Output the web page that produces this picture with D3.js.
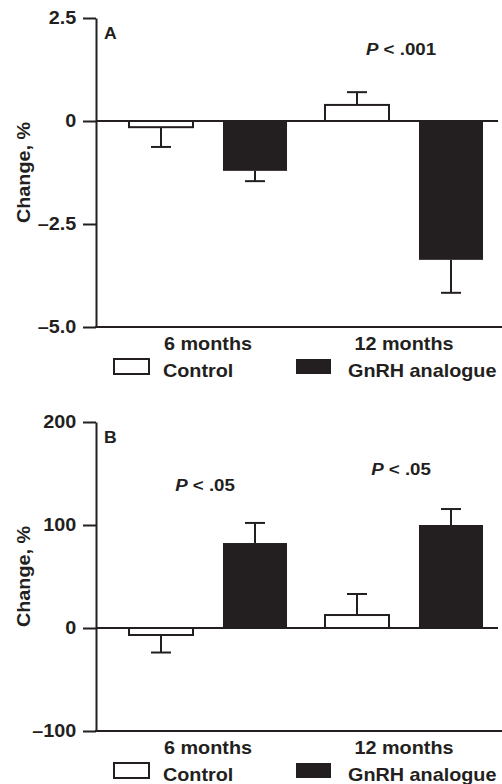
<!DOCTYPE html>
<html>
<head>
<meta charset="utf-8">
<script src="https://cdn.jsdelivr.net/npm/d3@7"></script>
<style>
  body { margin: 0; background: #fff; }
  svg text { font-family: "Liberation Sans", Arial, sans-serif; font-weight: bold; fill: #231f20; }
</style>
</head>
<body>
<svg id="chart" width="502" height="784"></svg>
<script>
// data
var months = ["6 months", "12 months"];
var groups = ["Control", "GnRH analogue"];

// panel A
var controlA = [-0.15, 0.39];
var controlErrA = [0.48, 0.31];
var gnrhA = [-1.21, -3.37];
var gnrhErrA = [0.25, 0.80];
var ticksA = [2.5, 0, -2.5, -5.0];
var tickLabelsA = ["2.5", "0", "\u20132.5", "\u20135.0"];
var pLabelsA = [{month: "12 months", y: 1.6, text: ".001"}];

// panel B
var controlB = [-6.8, 12.6];
var controlErrB = [17, 20.4];
var gnrhB = [82.5, 100];
var gnrhErrB = [19.5, 15.5];
var ticksB = [200, 100, 0, -100];
var tickLabelsB = ["200", "100", "0", "\u2013100"];
var pLabelsB = [{month: "6 months", y: 133, text: ".05"}, {month: "12 months", y: 148.5, text: ".05"}];

var ink = "#231f20";
var stretch = "scale(1.1,1)";
var svg = d3.select("#chart");

var x0 = d3.scaleBand().domain(months).range([110, 502]).padding(0);
var x1 = d3.scaleBand().domain(groups).range([0, x0.bandwidth()])
    .paddingInner(0.319).paddingOuter(0.202);

var drawPanel = function(opt) {
    var g = svg.append("g");
    var left = 96, right = 500;
    var y = d3.scaleLinear().domain(opt.domain).range([opt.bottom, opt.top]);

    var rows = months.map(function(m, i) {
        return [
            {month: m, group: groups[0], v: opt.control[i], e: opt.controlErr[i]},
            {month: m, group: groups[1], v: opt.gnrh[i], e: opt.gnrhErr[i]}
        ];
    });
    var bars = [].concat.apply([], rows);

    // zero line
    g.append("line")
        .attr("x1", left).attr("x2", right - 2)
        .attr("y1", y(0)).attr("y2", y(0))
        .attr("stroke", ink).attr("stroke-width", 2);

    // error bars (one-sided, away from zero)
    var err = g.selectAll(".err").data(bars).enter().append("g");
    err.append("line")
        .attr("x1", function(d) { return x0(d.month) + x1(d.group) + x1.bandwidth() / 2; })
        .attr("x2", function(d) { return x0(d.month) + x1(d.group) + x1.bandwidth() / 2; })
        .attr("y1", function(d) { return y(d.v); })
        .attr("y2", function(d) { return y(d.v + (d.v < 0 ? -d.e : d.e)); })
        .attr("stroke", ink).attr("stroke-width", 2);
    err.append("line")
        .attr("x1", function(d) { return x0(d.month) + x1(d.group) + x1.bandwidth() / 2 - 10; })
        .attr("x2", function(d) { return x0(d.month) + x1(d.group) + x1.bandwidth() / 2 + 10; })
        .attr("y1", function(d) { return y(d.v + (d.v < 0 ? -d.e : d.e)); })
        .attr("y2", function(d) { return y(d.v + (d.v < 0 ? -d.e : d.e)); })
        .attr("stroke", ink).attr("stroke-width", 2);

    // bars
    g.selectAll(".bar").data(bars).enter().append("rect")
        .attr("x", function(d) { return x0(d.month) + x1(d.group); })
        .attr("width", x1.bandwidth())
        .attr("y", function(d) { return Math.min(y(d.v), y(0)); })
        .attr("height", function(d) { return Math.abs(y(d.v) - y(0)); })
        .attr("fill", function(d) { return d.group == "Control" ? "#fff" : ink; })
        .attr("stroke", ink)
        .attr("stroke-width", function(d) { return d.group == "Control" ? 2 : 0; });

    // y axis
    var yAxis = d3.axisLeft(y)
        .tickValues(opt.ticks)
        .tickFormat(function(d, i) { return opt.tickLabels[i]; })
        .tickSize(13).tickSizeOuter(0).tickPadding(5);
    var ya = g.append("g").attr("transform", "translate(" + left + ",0)").call(yAxis);
    ya.select(".domain").attr("stroke", ink).attr("stroke-width", 2);
    ya.selectAll(".tick line").attr("stroke", ink).attr("stroke-width", 2);
    ya.selectAll(".tick text").attr("fill", ink).attr("font-size", 18)
        .attr("font-family", null).attr("transform", stretch);

    // bottom axis line
    g.append("line")
        .attr("x1", left - 1).attr("x2", right + 2)
        .attr("y1", y(opt.domain[0])).attr("y2", y(opt.domain[0]))
        .attr("stroke", ink).attr("stroke-width", 2);

    // month labels
    var xa = g.append("g").attr("transform", "translate(0," + y(opt.domain[0]) + ")")
        .call(d3.axisBottom(x0).tickSize(0).tickPadding(10));
    xa.select(".domain").remove();
    xa.selectAll(".tick text").attr("fill", ink).attr("font-size", 18)
        .attr("font-family", null).attr("transform", stretch);

    // y label
    g.append("text")
        .attr("transform", "translate(30," + (opt.top + opt.bottom) / 2 + ") rotate(-90) " + stretch)
        .attr("text-anchor", "middle")
        .attr("font-size", 18)
        .text("Change, %");

    // panel letter
    g.append("text")
        .attr("transform", "translate(" + (left + 8) + "," + (opt.top + 21) + ") " + stretch)
        .attr("font-size", 16)
        .text(opt.letter);

    // p values
    opt.pLabels.forEach(function(p) {
        var t = g.append("text")
            .attr("transform", "translate(" + (x0(p.month) + x0.bandwidth() / 2 - 3) + "," + y(p.y) + ") " + stretch)
            .attr("text-anchor", "middle")
            .attr("font-size", 17);
        t.append("tspan").attr("font-style", "italic").text("P");
        t.append("tspan").text(" < " + p.text);
    });

    // legend
    var ly = y(opt.domain[0]) + 32;
    var legend = g.selectAll(".legend").data(groups).enter().append("g")
        .attr("transform", function(d, i) { return "translate(" + (i == 0 ? 114 : 296) + "," + ly + ")"; });
    legend.append("rect")
        .attr("width", 35).attr("height", 15)
        .attr("fill", function(d) { return d == "Control" ? "#fff" : ink; })
        .attr("stroke", ink)
        .attr("stroke-width", function(d) { return d == "Control" ? 2 : 0; });
    legend.append("text")
        .attr("transform", function(d) { return "translate(" + (d == "Control" ? 49 : 52) + ",18) " + stretch; })
        .attr("font-size", 18)
        .text(function(d) { return d; });
};

drawPanel({letter: "A", domain: [-5, 2.5], top: 18, bottom: 327,
    control: controlA, controlErr: controlErrA, gnrh: gnrhA, gnrhErr: gnrhErrA,
    ticks: ticksA, tickLabels: tickLabelsA, pLabels: pLabelsA});

drawPanel({letter: "B", domain: [-100, 200], top: 422, bottom: 731,
    control: controlB, controlErr: controlErrB, gnrh: gnrhB, gnrhErr: gnrhErrB,
    ticks: ticksB, tickLabels: tickLabelsB, pLabels: pLabelsB});
</script>
</body>
</html>
